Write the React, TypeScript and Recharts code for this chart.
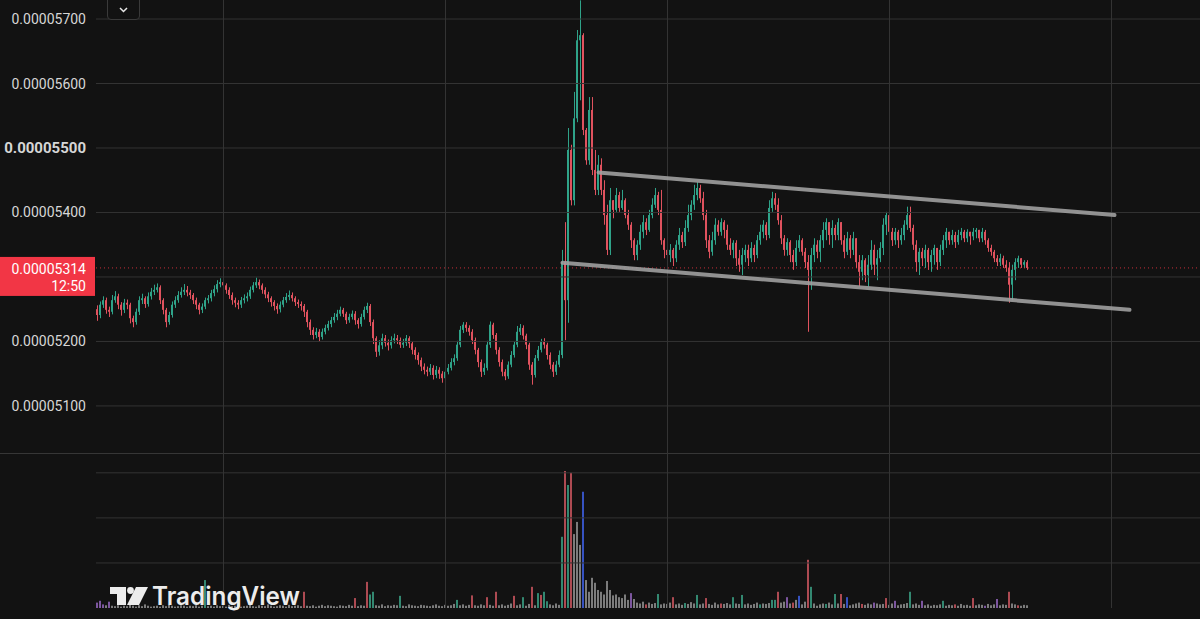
import React from "react";
import { ComposedChart, Bar, XAxis, YAxis, ReferenceLine } from "recharts";

// prices are in units of 1e-8 (5314 -> 0.00005314)
const FIRST_OPEN = 5250;

const closes = [
  5241, 5257, 5264, 5249, 5246, 5264, 5270, 5257, 5249, 5260,
  5257, 5236, 5230, 5246, 5264, 5267, 5258, 5270, 5277, 5280,
  5284, 5264, 5249, 5230, 5241, 5257, 5264, 5272, 5277, 5280,
  5276, 5272, 5264, 5257, 5249, 5254, 5264, 5267, 5275, 5281,
  5289, 5292, 5287, 5280, 5272, 5264, 5260, 5257, 5264, 5267,
  5270, 5280, 5287, 5292, 5287, 5280, 5273, 5267, 5261, 5255,
  5250, 5257, 5264, 5269, 5272, 5267, 5261, 5258, 5255, 5246,
  5230, 5218, 5210, 5215, 5207, 5215, 5221, 5227, 5233, 5238,
  5243, 5249, 5243, 5233, 5238, 5243, 5233, 5227, 5238, 5249,
  5255, 5230, 5205, 5184, 5194, 5205, 5198, 5194, 5202, 5205,
  5202, 5195, 5198, 5205, 5197, 5187, 5179, 5171, 5161, 5156,
  5153, 5159, 5148, 5156, 5150, 5143, 5153, 5159, 5168, 5174,
  5195, 5218, 5226, 5221, 5215, 5202, 5187, 5168, 5153, 5159,
  5195, 5226, 5210, 5187, 5168, 5153, 5146, 5164, 5179, 5195,
  5215, 5221, 5209, 5195, 5164, 5148, 5174, 5187, 5199, 5195,
  5179, 5164, 5153, 5164, 5179, 5323, 5264, 5497, 5419, 5546,
  5667, 5675, 5528, 5481, 5559, 5466, 5435, 5474, 5435, 5396,
  5342, 5419, 5404, 5427, 5407, 5419, 5396, 5381, 5357, 5334,
  5350, 5370, 5385, 5373, 5396, 5412, 5427, 5404, 5357, 5342,
  5334, 5342, 5329, 5350, 5365, 5354, 5376, 5396, 5412, 5427,
  5438, 5422, 5396, 5357, 5339, 5357, 5381, 5370, 5385, 5373,
  5350, 5342, 5353, 5329, 5319, 5334, 5342, 5329, 5345, 5334,
  5357, 5370, 5381, 5365, 5407, 5422, 5412, 5388, 5360, 5342,
  5354, 5334, 5323, 5345, 5357, 5339, 5323, 5311, 5334, 5350,
  5339, 5357, 5373, 5385, 5365, 5376, 5365, 5385, 5357, 5339,
  5360, 5342, 5360, 5323, 5308, 5326, 5303, 5319, 5342, 5319,
  5329, 5345, 5381, 5396, 5370, 5357, 5370, 5357, 5365, 5381,
  5396, 5376, 5350, 5323, 5339, 5329, 5342, 5323, 5334, 5345,
  5323, 5342, 5357, 5370, 5357, 5365, 5354, 5365, 5370, 5360,
  5370, 5363, 5370, 5373, 5360, 5370, 5357, 5345, 5339, 5329,
  5323, 5329, 5319, 5314, 5288, 5311, 5323, 5329, 5319, 5323,
  5314,
];

const highs = [
  5256, 5262, 5270, 5268, 5254, 5272, 5278, 5274, 5261, 5266,
  5265, 5260, 5240, 5251, 5270, 5274, 5270, 5276, 5283, 5288,
  5290, 5287, 5267, 5252, 5246, 5262, 5270, 5278, 5284, 5289,
  5286, 5280, 5275, 5268, 5260, 5259, 5268, 5272, 5280, 5287,
  5295, 5298, 5296, 5290, 5284, 5276, 5268, 5264, 5269, 5273,
  5276, 5285, 5292, 5299, 5296, 5290, 5284, 5277, 5270, 5264,
  5259, 5262, 5269, 5275, 5279, 5276, 5270, 5265, 5262, 5258,
  5249, 5234, 5222, 5221, 5219, 5220, 5226, 5232, 5238, 5244,
  5249, 5254, 5252, 5246, 5243, 5248, 5247, 5236, 5243, 5254,
  5260, 5258, 5234, 5208, 5202, 5212, 5210, 5203, 5208, 5212,
  5210, 5206, 5204, 5210, 5208, 5200, 5191, 5183, 5175, 5166,
  5161, 5165, 5163, 5162, 5160, 5154, 5158, 5165, 5174, 5180,
  5201, 5224, 5230, 5230, 5225, 5219, 5206, 5190, 5172, 5166,
  5201, 5231, 5229, 5213, 5191, 5172, 5157, 5169, 5185, 5200,
  5224, 5227, 5225, 5212, 5198, 5168, 5179, 5193, 5204, 5205,
  5198, 5183, 5168, 5170, 5186, 5342, 5385, 5531, 5505, 5587,
  5683, 5729, 5678, 5531, 5579, 5579, 5497, 5489, 5484, 5450,
  5412, 5438, 5419, 5438, 5432, 5435, 5422, 5404, 5385, 5360,
  5357, 5381, 5396, 5391, 5404, 5422, 5438, 5432, 5435, 5360,
  5350, 5351, 5345, 5357, 5376, 5370, 5388, 5412, 5419, 5443,
  5447, 5443, 5432, 5404, 5365, 5370, 5391, 5388, 5391, 5388,
  5381, 5360, 5357, 5357, 5342, 5345, 5350, 5350, 5354, 5350,
  5365, 5381, 5388, 5385, 5419, 5432, 5430, 5422, 5396, 5365,
  5360, 5357, 5342, 5357, 5365, 5360, 5345, 5334, 5345, 5360,
  5357, 5365, 5385, 5391, 5385, 5388, 5381, 5391, 5385, 5365,
  5370, 5365, 5370, 5360, 5334, 5334, 5329, 5334, 5357, 5350,
  5342, 5354, 5391, 5401, 5401, 5376, 5376, 5373, 5376, 5388,
  5409, 5409, 5381, 5357, 5345, 5345, 5350, 5345, 5342, 5350,
  5345, 5350, 5365, 5376, 5370, 5373, 5370, 5373, 5376, 5373,
  5374, 5370, 5376, 5376, 5373, 5376, 5373, 5360, 5350, 5342,
  5334, 5336, 5333, 5326, 5323, 5319, 5329, 5333, 5329, 5326,
  5326,
];

const lows = [
  5232, 5236, 5252, 5243, 5238, 5242, 5260, 5250, 5240, 5244,
  5250, 5228, 5222, 5226, 5241, 5258, 5252, 5254, 5265, 5272,
  5276, 5258, 5242, 5222, 5226, 5237, 5252, 5260, 5268, 5272,
  5270, 5266, 5258, 5250, 5242, 5244, 5250, 5259, 5262, 5270,
  5276, 5284, 5280, 5274, 5266, 5257, 5253, 5250, 5252, 5259,
  5262, 5266, 5276, 5283, 5281, 5274, 5267, 5261, 5254, 5248,
  5243, 5245, 5253, 5260, 5264, 5262, 5255, 5252, 5248, 5238,
  5222, 5210, 5203, 5205, 5200, 5203, 5211, 5217, 5222, 5229,
  5233, 5239, 5238, 5227, 5229, 5234, 5226, 5220, 5223, 5234,
  5244, 5224, 5196, 5176, 5178, 5188, 5192, 5186, 5189, 5197,
  5196, 5190, 5190, 5193, 5190, 5180, 5172, 5164, 5154, 5149,
  5146, 5148, 5141, 5143, 5142, 5136, 5139, 5149, 5155, 5163,
  5170, 5191, 5213, 5215, 5209, 5196, 5180, 5160, 5145, 5148,
  5155, 5190, 5204, 5180, 5161, 5146, 5140, 5142, 5160, 5175,
  5191, 5210, 5203, 5188, 5156, 5133, 5144, 5170, 5183, 5189,
  5172, 5157, 5145, 5148, 5160, 5174, 5202, 5229, 5411, 5411,
  5540, 5574, 5520, 5474, 5474, 5458, 5427, 5427, 5427, 5381,
  5334, 5334, 5391, 5401, 5401, 5404, 5391, 5373, 5345, 5326,
  5326, 5342, 5360, 5365, 5370, 5391, 5407, 5396, 5350, 5329,
  5323, 5323, 5317, 5323, 5342, 5345, 5348, 5370, 5388, 5404,
  5419, 5415, 5388, 5345, 5329, 5333, 5350, 5364, 5364, 5360,
  5342, 5334, 5329, 5317, 5308, 5303, 5323, 5317, 5323, 5323,
  5329, 5350, 5360, 5357, 5360, 5401, 5404, 5381, 5351, 5333,
  5333, 5323, 5311, 5317, 5339, 5333, 5314, 5215, 5280, 5323,
  5329, 5323, 5345, 5357, 5350, 5345, 5357, 5357, 5350, 5329,
  5334, 5329, 5334, 5314, 5285, 5295, 5292, 5285, 5311, 5303,
  5295, 5323, 5334, 5365, 5360, 5348, 5350, 5345, 5350, 5357,
  5373, 5370, 5342, 5308, 5303, 5317, 5314, 5311, 5308, 5319,
  5311, 5317, 5334, 5345, 5350, 5350, 5345, 5350, 5357, 5354,
  5354, 5350, 5357, 5360, 5354, 5354, 5350, 5339, 5333, 5323,
  5317, 5317, 5314, 5308, 5260, 5264, 5295, 5314, 5314, 5314,
  5311,
];

const volumes = [
  12, 16, 8, 6, 14, 5, 4, 6, 3, 5,
  4, 7, 5, 3, 6, 4, 8, 5, 3, 4,
  5, 3, 6, 4, 7, 5, 3, 4, 6, 5,
  3, 5, 4, 6, 3, 5, 62, 4, 5, 3,
  6, 4, 5, 3, 7, 4, 5, 6, 3, 4,
  5, 7, 4, 3, 6, 5, 4, 8, 5, 3,
  4, 6, 5, 3, 7, 4, 5, 6, 4, 36,
  5, 4, 6, 3, 5, 7, 4, 6, 5, 4,
  3, 6, 5, 4, 7, 5, 22, 4, 6, 5,
  58, 30, 36, 6, 5, 8, 4, 6, 5, 7,
  6, 27, 5, 4, 8, 6, 5, 4, 7, 6,
  5, 4, 6, 8, 5, 4, 7, 5, 6, 9,
  18, 6, 8, 5, 7, 28, 6, 5, 8, 6,
  24, 7, 5, 36, 6, 8, 5, 7, 10, 27,
  6, 8, 24, 5, 9, 47, 6, 33, 29, 36,
  15, 8, 6, 10, 7, 158, 304, 273, 300, 164,
  191, 140, 258, 62, 36, 67, 56, 40, 36, 30,
  60, 40, 28, 30, 24, 22, 30, 18, 33, 20,
  12, 10, 14, 8, 12, 9, 11, 31, 8, 10,
  9, 12, 24, 8, 10, 7, 11, 9, 13, 10,
  29, 8, 10, 22, 9, 7, 12, 8, 10, 9,
  11, 8, 24, 10, 9, 29, 8, 10, 7, 9,
  12, 8, 10, 9, 11, 18, 18, 36, 12, 14,
  24, 10, 12, 18, 27, 8, 14, 107, 47, 10,
  5, 8, 10, 9, 12, 8, 31, 10, 31, 9,
  24, 6, 8, 10, 12, 9, 7, 10, 8, 12,
  10, 8, 9, 22, 7, 10, 16, 6, 8, 9,
  11, 36, 8, 10, 7, 16, 6, 8, 5, 7,
  6, 8, 16, 5, 7, 6, 8, 5, 9, 6,
  7, 5, 22, 6, 8, 7, 5, 9, 6, 8,
  20, 6, 8, 7, 36, 10, 8, 6, 5, 7,
  6,
];

// volume bars that are not the default grey: [index, colour key]
const volumeColorMarks: [number, string][] = [
  [0, "p"], [1, "p"], [2, "p"], [4, "p"], [36, "g"], [69, "r"], [86, "r"],
  [90, "r"], [91, "g"], [92, "g"], [101, "g"], [120, "g"], [125, "r"],
  [130, "r"], [133, "r"], [139, "r"], [142, "g"], [145, "r"], [147, "g"],
  [148, "r"], [149, "g"], [150, "g"], [155, "g"], [156, "r"], [157, "g"],
  [158, "r"], [162, "b"], [178, "p"], [183, "r"], [187, "g"], [192, "r"],
  [196, "g"], [200, "g"], [203, "r"], [208, "r"], [212, "g"], [215, "g"],
  [221, "g"], [225, "g"], [226, "g"], [227, "r"], [230, "p"], [232, "r"],
  [234, "b"], [237, "r"], [238, "g"], [243, "g"], [246, "g"], [248, "r"],
  [250, "b"], [255, "r"], [259, "p"], [263, "r"], [266, "p"], [271, "g"],
  [275, "p"], [282, "g"], [286, "r"], [292, "r"], [296, "p"], [300, "p"],
  [304, "r"], [307, "r"],
];

const TOTAL_SLOTS = 368;
const priceTicks = [5100, 5200, 5400, 5500, 5600, 5700];
const priceGrid = [5100, 5200, 5300, 5400, 5500, 5600, 5700];
const timeGrid = [42, 116, 190, 264, 338];
const volumeGrid = [100, 200, 300];
const lastPrice = 5314;
const countdown = "12:50";
const channelUpper = [{ x: 167, y: 5462 }, { x: 339, y: 5396 }];
const channelLower = [{ x: 155, y: 5322 }, { x: 344, y: 5249 }];

const BG = "#121212";
const GRID = "#333333";
const UP = "#2fa389";
const DOWN = "#e0525e";
const VOL_COLORS: Record<string, string> = {
  n: "#8f8f8f",
  g: "#3a9e82",
  r: "#c9555e",
  p: "#8f63b8",
  b: "#3d5ee0",
};

const fmt = (v: number) => (v / 1e8).toFixed(8);

const volColor: string[] = closes.map(() => "n");
volumeColorMarks.forEach(([i, c]) => (volColor[i] = c));

const slots = Array.from({ length: TOTAL_SLOTS }, (_, i) => {
  if (i >= closes.length) return { slot: i };
  return {
    slot: i,
    open: i === 0 ? FIRST_OPEN : closes[i - 1],
    close: closes[i],
    high: highs[i],
    low: lows[i],
    range: [lows[i], highs[i]],
    vol: volumes[i],
    vcol: volColor[i],
  };
});

function Candle(props: any) {
  const { x, y, width, height, payload } = props;
  if (!payload || payload.close == null) return null;
  const top = Math.min(y, y + height);
  const h = Math.abs(height);
  const span = payload.high - payload.low || 1;
  const toY = (p: number) => top + ((payload.high - p) / span) * h;
  const color = payload.close >= payload.open ? UP : DOWN;
  const cx = x + width / 2;
  const bTop = toY(Math.max(payload.open, payload.close));
  const bBot = toY(Math.min(payload.open, payload.close));
  return (
    <g>
      <rect x={Math.floor(cx)} y={top} width={1} height={Math.max(1, h)} fill={color} />
      <rect x={Math.floor(cx - 1)} y={bTop} width={2} height={Math.max(1, bBot - bTop)} fill={color} />
    </g>
  );
}

function VolumeBar(props: any) {
  const { x, y, width, height, payload } = props;
  if (!payload || !payload.vol) return null;
  const cx = x + width / 2;
  return (
    <rect
      x={Math.floor(cx - 1)}
      y={Math.min(y, y + height)}
      width={2}
      height={Math.abs(height)}
      fill={VOL_COLORS[payload.vcol] || VOL_COLORS.n}
      fillOpacity={0.85}
    />
  );
}

function PriceTick(props: any) {
  const { y, payload } = props;
  const big = payload.value === 5500;
  return (
    <text
      x={86}
      y={y}
      textAnchor="end"
      dominantBaseline="central"
      fill="#d6d6d6"
      fontFamily="Roboto, sans-serif"
      fontSize={big ? 15 : 14}
      fontWeight={big ? 700 : 400}
    >
      {fmt(payload.value)}
    </text>
  );
}

function PriceTag(props: any) {
  const vy = props.viewBox ? props.viewBox.y : 268;
  return (
    <g>
      <rect x={0} y={vy - 11} width={95} height={39} fill="#f23645" />
      <text x={86} y={vy + 1} textAnchor="end" dominantBaseline="central" fill="#ffffff" fontFamily="Roboto, sans-serif" fontSize={14}>
        {fmt(lastPrice)}
      </text>
      <text x={86} y={vy + 18} textAnchor="end" dominantBaseline="central" fill="#ffffff" fontFamily="Roboto, sans-serif" fontSize={14}>
        {countdown}
      </text>
    </g>
  );
}

function Logo() {
  return (
    <svg width={230} height={36} style={{ position: "absolute", left: 108, top: 580, overflow: "visible" }}>
      <path d="M2 7 H18 V25 H9 V14 H2 Z" fill="#ececec" />
      <circle cx={22.5} cy={10.5} r={3.4} fill="#ececec" />
      <polygon points="28,7 40,7 31,25 19,25" fill="#ececec" />
      <text x={44} y={25} fill="#ececec" fontFamily="Inter, sans-serif" fontWeight={600} fontSize={25} textLength={148} lengthAdjust="spacingAndGlyphs">
        TradingView
      </text>
    </svg>
  );
}

export default function App() {
  return (
    <div style={{ position: "absolute", left: 0, top: 0, width: 1200, height: 619, background: BG, overflow: "hidden" }}>
      <div style={{ position: "absolute", left: 0, top: 0 }}>
        <ComposedChart width={1200} height={453} data={slots} margin={{ top: 0, right: 0, bottom: 0, left: 0 }} barCategoryGap={0}>
          <XAxis dataKey="slot" type="category" hide />
          <YAxis
            domain={[5027, 5729.5]}
            allowDataOverflow
            ticks={priceTicks}
            interval={0}
            width={96}
            axisLine={false}
            tickLine={false}
            tick={<PriceTick />}
          />
          {priceGrid.map((p) => (
            <ReferenceLine key={"h" + p} y={p} stroke={GRID} strokeWidth={1} />
          ))}
          {timeGrid.map((s) => (
            <ReferenceLine key={"v" + s} x={s} stroke={GRID} strokeWidth={1} />
          ))}
          <Bar dataKey="range" shape={<Candle />} isAnimationActive={false} />
          <ReferenceLine
            y={lastPrice}
            stroke="#f23645"
            strokeOpacity={0.8}
            strokeDasharray="1 3"
            label={<PriceTag />}
          />
          <ReferenceLine segment={channelUpper} stroke="#a0a0a0" strokeOpacity={0.9} strokeWidth={4} strokeLinecap="round" />
          <ReferenceLine segment={channelLower} stroke="#a0a0a0" strokeOpacity={0.9} strokeWidth={4} strokeLinecap="round" />
        </ComposedChart>
      </div>
      <div style={{ position: "absolute", left: 0, top: 453, width: 1200, height: 1, background: "#363636" }} />
      <div style={{ position: "absolute", left: 0, top: 453 }}>
        <ComposedChart width={1200} height={166} data={slots} margin={{ top: 0, right: 0, bottom: 11, left: 96 }} barCategoryGap={0}>
          <XAxis dataKey="slot" type="category" hide />
          <YAxis domain={[0, 344]} allowDataOverflow hide />
          {volumeGrid.map((v) => (
            <ReferenceLine key={"vh" + v} y={v} stroke={GRID} strokeWidth={1} />
          ))}
          {timeGrid.map((s) => (
            <ReferenceLine key={"vv" + s} x={s} stroke={GRID} strokeWidth={1} />
          ))}
          <Bar dataKey="vol" shape={<VolumeBar />} isAnimationActive={false} />
        </ComposedChart>
      </div>
      <Logo />
      <div
        style={{
          position: "absolute",
          left: 107,
          top: -4,
          width: 33,
          height: 24,
          border: "1px solid #3a3a3a",
          borderRadius: 4,
          background: BG,
          boxSizing: "border-box",
        }}
      >
        <svg width={31} height={22} style={{ position: "absolute", left: 0, top: 0 }}>
          <polyline points="12,11 15.5,14.5 19,11" fill="none" stroke="#e8e8e8" strokeWidth={1.5} />
        </svg>
      </div>
    </div>
  );
}
